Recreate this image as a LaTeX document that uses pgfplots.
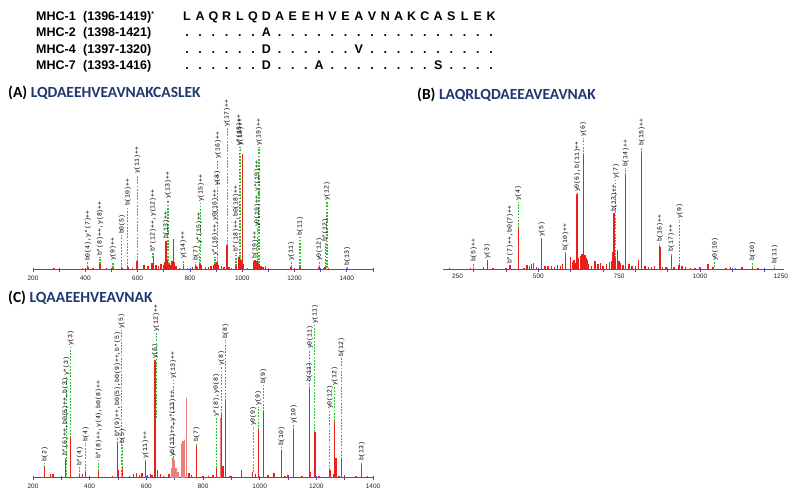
\documentclass[border=0pt]{standalone}
\usepackage{fontspec}
\setmainfont{Liberation Sans}
\newfontfamily\titlefont{Carlito}
\newfontfamily\labfont{Liberation Mono}
\usepackage{pgfplots}
\pgfplotsset{compat=1.18}
\definecolor{axblue}{RGB}{72,72,210}
\definecolor{pkred}{RGB}{235,30,30}
\definecolor{pkpink}{RGB}{240,125,125}
\definecolor{lblgreen}{RGB}{40,195,40}
\definecolor{navy}{RGB}{31,56,112}
\pgfplotsset{
 spec/.style={scale only axis, axis x line=bottom, axis y line=none,
   axis line style={axblue, line width=1pt, -}, ymin=0, clip=false,
   xtick style={axblue, line width=0.8pt}, tick align=center,
   major tick length=4pt, minor tick length=4pt,
   tick label style={font=\fontsize{6.5}{7}\selectfont, text=black!85},
   unbounded coords=jump},
 peaks/.style={ycomb, color=pkred, line width=1.4pt, mark=none},
 pinks/.style={ycomb, color=pkpink, line width=1.4pt, mark=none},
 gline/.style={color=lblgreen, dash pattern=on 1.8pt off 1.4pt, line width=1.1pt, mark=none},
}
\tikzset{seq/.style={font=\fontsize{12.5}{13}\selectfont\bfseries, inner sep=0, anchor=base},
  lbl/.style={rotate=90, anchor=west, inner sep=0.8pt, text=black, font=\labfont\fontsize{6.5}{6.5}\selectfont}}
\newcommand\lab[3]{\node[lbl] at (axis cs:#1,#2) {#3};}

\begin{document}
\begin{tikzpicture}
\path[use as bounding box] (0pt,0pt) rectangle (795pt,494pt);
\node[seq, anchor=base west] at (36pt,473pt) {MHC-1};
\node[seq, anchor=base west] at (36pt,457pt) {MHC-2};
\node[seq, anchor=base west] at (36pt,440pt) {MHC-4};
\node[seq, anchor=base west] at (36pt,424pt) {MHC-7};
\node[seq, anchor=base west] at (83pt,473pt) {(1396-1419)\textsuperscript{\fontsize{7}{7}\selectfont *}};
\node[seq, anchor=base west] at (83pt,457pt) {(1398-1421)};
\node[seq, anchor=base west] at (83pt,440pt) {(1397-1320)};
\node[seq, anchor=base west] at (83pt,424pt) {(1393-1416)};
\foreach \c [count=\i from 0] in {L,A,Q,R,L,Q,D,A,E,E,H,V,E,A,V,N,A,K,C,A,S,L,E,K}
  \node[seq] at ({187pt+13.22pt*\i},473pt) {\c};
\foreach \c [count=\i from 0] in {.,.,.,.,.,.,A,.,.,.,.,.,.,.,.,.,.,.,.,.,.,.,.,.}
  \node[seq] at ({187pt+13.22pt*\i},457pt) {\c};
\foreach \c [count=\i from 0] in {.,.,.,.,.,.,D,.,.,.,.,.,.,V,.,.,.,.,.,.,.,.,.,.}
  \node[seq] at ({187pt+13.22pt*\i},440pt) {\c};
\foreach \c [count=\i from 0] in {.,.,.,.,.,.,D,.,.,.,A,.,.,.,.,.,.,.,.,S,.,.,.,.}
  \node[seq] at ({187pt+13.22pt*\i},424pt) {\c};
\node[anchor=base west, inner sep=0, font=\titlefont\bfseries\fontsize{15.5}{17}\selectfont] at (8pt,396pt) {(A) \textcolor{navy}{LQDAEEHVEAVNAKCASLEK}};
\node[anchor=base west, inner sep=0, font=\titlefont\bfseries\fontsize{15.5}{17}\selectfont] at (417pt,394pt) {(B) \textcolor{navy}{LAQRLQDAEEAVEAVNAK}};
\node[anchor=base west, inner sep=0, font=\titlefont\bfseries\fontsize{15.5}{17}\selectfont] at (8pt,191pt) {(C) \textcolor{navy}{LQAAEEHVEAVNAK}};

% ---- Panel A
\begin{axis}[spec, at={(33pt,224pt)}, anchor=south west, width=340pt, height=180pt,
  xmin=200, xmax=1500, ymax=180,
  xtick={200,300,...,1500}, xticklabels={200,,400,,600,,800,,1000,,1200,,1400,}]
\addplot[gline] table {
410 3
410 8
410 nan
456 6
456 13
456 nan
506 2
506 8
506 nan
540 2
540 35
540 nan
563 3
563 63
563 nan
598 9
598 95
598 nan
659 12
659 17
659 nan
716 6
716 70
716 nan
774 4
774 10
774 nan
823 4
823 8
823 nan
835 6
835 25
835 nan
842 5
842 67
842 nan
896 6
896 13
896 nan
904 8
904 83
904 nan
907 8
907 110
907 nan
942 25
942 142
942 nan
976 4
976 17
976 nan
988 13
988 123
988 nan
993 10
993 123
993 nan
1057 9
1057 42
1057 nan
1064 7
1064 123
1064 nan
1187 3
1187 8
1187 nan
1221 3
1221 33
1221 nan
1294 3
1294 8
1294 nan
1317 3
1317 27
1317 nan
1324 2
1324 68
1324 nan
1401 1
1401 3
};
\addplot[peaks] table {
280 2
330 1
390 2
410 3
430 2
456 6
480 2
506 2
540 2
563 3
580 2
598 9
625 5
640 4
655 7
660 12
670 5
680 4
690 6
700 5
705 8
709 29
713 10
718 6
722 7
727 5
731 9
735 6
738 31
742 8
746 4
760 2
775 4
790 2
810 3
823 4
830 3
838 6
845 5
860 3
870 3
880 4
890 5
896 6
904 8
910 5
920 4
930 3
942 25
950 3
960 2
976 4
988 13
995 10
1000 116
1005 6
1020 2
1045 9
1049 10
1053 8
1057 9
1062 7
1066 6
1072 4
1080 3
1090 4
1100 2
1150 1
1187 3
1200 2
1221 3
1260 1
1294 3
1310 2
1317 3
1330 2
1360 1
1401 1
1450 1
};
\lab{410}{8}{b0(4),y*(7)++}
\lab{456}{13}{b*(8)++,y(8)++}
\lab{506}{8}{y(9)++}
\lab{540}{35}{b0(5)}
\lab{563}{63}{b(10)++}
\lab{598}{95}{y(11)++}
\lab{659}{17}{b*(12)++,y(12)++}
\lab{709}{30}{b(13)++}
\lab{716}{70}{y(13)++}
\lab{774}{10}{y(14)++}
\lab{823}{8}{b(7)}
\lab{835}{25}{y*(15)++}
\lab{842}{67}{y(15)++}
\lab{896}{13}{y*(16)++,y0(16)++}
\lab{904}{83}{y(8)}
\lab{907}{110}{y(16)++}
\lab{942}{142}{y(17)++}
\lab{976}{17}{b*(18)++,b0(18)++}
\lab{988}{123}{y*(18)++}
\lab{993}{123}{y(18)++}
\lab{1049}{10}{b(19)++}
\lab{1057}{42}{y0(19)++,y*(19)++}
\lab{1064}{123}{y(19)++}
\lab{1187}{8}{y(11)}
\lab{1221}{33}{b(11)}
\lab{1294}{8}{y0(12)}
\lab{1317}{27}{b*(12)}
\lab{1324}{68}{y(12)}
\lab{1401}{3}{b(13)}
\end{axis}

% ---- Panel B
\begin{axis}[spec, at={(443pt,224pt)}, anchor=south west, width=341pt, height=180pt,
  xmin=205, xmax=1260, ymax=180,
  xtick={250,500,750,1000,1250}, xticklabels={250,500,750,1000,1250}, major tick length=0pt,
  minor xtick={200,300,...,1200}]
\addplot[gline] table {
300 1
300 7
300 nan
438 42
438 68
438 nan
510 31
510 32
510 nan
584 16
584 18
584 nan
620 76
620 77
620 nan
639 115
639 132
639 nan
740 12
740 90
740 nan
770 95
770 102
770 nan
820 117
820 123
820 nan
876 23
876 27
876 nan
911 14
911 17
911 nan
937 5
937 50
937 nan
1046 3
1046 8
1046 nan
1162 2
1162 8
1162 nan
1231 1
1231 5
};
\addplot[peaks] table {
225 2
290 2
300 1
330 3
342 10
360 2
400 2
412 5
438 42
455 2
465 5
472 4
478 6
485 7
495 3
510 31
520 4
530 4
540 4
550 3
560 5
568 4
575 6
584 16
600 13
605 8
610 10
614 7
620 76
625 12
630 14
635 16
639 115
644 15
648 12
652 10
656 6
665 4
675 9
685 6
692 7
700 4
710 6
720 8
726 9
730 18
734 57
738 12
745 20
750 9
755 7
762 5
770 95
780 6
790 4
800 4
810 10
820 117
830 4
840 3
850 3
860 4
876 23
885 3
895 3
911 14
920 3
935 5
945 4
955 3
970 2
985 2
1000 3
1025 6
1040 3
1080 2
1095 3
1110 2
1130 3
1162 2
1180 2
1231 1
};
\lab{300}{7}{b(5)++}
\lab{342}{10}{y(3)}
\lab{412}{5}{b*(7)++,b0(7)++}
\lab{438}{68}{y(4)}
\lab{510}{32}{y(5)}
\lab{584}{18}{b(10)++}
\lab{620}{77}{y0(6),b(11)++}
\lab{639}{132}{y(6)}
\lab{734}{57}{b(13)++}
\lab{740}{90}{y(7)}
\lab{770}{102}{b(14)++}
\lab{820}{123}{b(15)++}
\lab{876}{27}{b(16)++}
\lab{911}{17}{b(17)++}
\lab{937}{50}{y(9)}
\lab{1046}{8}{y0(10)}
\lab{1162}{8}{b(10)}
\lab{1231}{5}{b(11)}
\end{axis}

% ---- Panel C
\begin{axis}[spec, at={(33pt,16pt)}, anchor=south west, width=340pt, height=160pt,
  xmin=200, xmax=1400, ymax=160,
  xtick={200,300,...,1400}, xticklabels={200,,400,,600,,800,,1000,,1200,,1400}]
\addplot[gline] table {
241 11
241 15
241 nan
314 18
314 21
314 nan
318 0
318 101
318 nan
333 40
333 131
333 nan
365 3
365 11
365 nan
386 6
386 35
386 nan
432 7
432 18
432 nan
498 35
498 40
498 nan
512 0
512 148
512 nan
516 10
516 33
516 nan
597 17
597 18
597 nan
635 60
635 145
635 nan
692 18
692 20
692 nan
695 20
695 98
695 nan
777 32
777 35
777 nan
847 10
847 60
847 nan
865 64
865 111
865 nan
879 77
879 138
879 nan
977 6
977 51
977 nan
995 48
995 71
995 nan
1013 66
1013 93
1013 nan
1077 27
1077 31
1077 nan
1120 48
1120 53
1120 nan
1175 90
1175 95
1175 nan
1177 90
1177 128
1177 nan
1195 46
1195 153
1195 nan
1248 8
1248 68
1248 nan
1265 57
1265 91
1265 nan
1289 19
1289 120
1289 nan
1360 13
1360 16
};
\addplot[pinks] table {
688 10
692 18
696 20
700 18
705 10
712 6
725 35
730 37
735 38
742 80
862 60
};
\addplot[peaks] table {
241 11
262 4
270 4
314 18
333 40
365 3
375 4
386 6
400 2
432 7
480 2
498 35
502 8
516 10
540 2
555 4
565 5
575 3
585 5
597 17
605 3
615 4
620 3
630 118
640 8
650 4
660 2
680 4
750 5
760 3
777 32
800 2
820 2
835 3
847 10
865 64
870 12
879 77
895 2
935 8
975 6
985 4
995 48
1013 66
1030 3
1050 5
1077 27
1090 2
1100 3
1120 48
1150 2
1175 90
1180 6
1195 46
1210 2
1248 8
1260 4
1265 57
1270 20
1280 2
1289 19
1300 3
1340 2
1360 13
1380 2
};
\lab{241}{15}{b(2)}
\lab{314}{21}{b*(6)++,b0(6)++,b(3)}
\lab{318}{101}{y*(3)}
\lab{333}{131}{y(3)}
\lab{365}{11}{b*(4)}
\lab{386}{35}{b(4)}
\lab{432}{18}{b*(8)++,y(4),b0(8)++}
\lab{498}{40}{b*(9)++,b0(5),b0(9)++,b*(5)}
\lab{512}{148}{y(5)}
\lab{516}{33}{b(5)}
\lab{597}{18}{y(11)++}
\lab{630}{118}{y(6)}
\lab{635}{145}{y(12)++}
\lab{692}{20}{y0(13)++,y*(13)++}
\lab{695}{98}{y(13)++}
\lab{777}{35}{b(7)}
\lab{847}{60}{y*(8),y0(8)}
\lab{865}{111}{y(8)}
\lab{879}{138}{b(8)}
\lab{977}{51}{y0(9)}
\lab{995}{71}{y(9)}
\lab{1013}{93}{b(9)}
\lab{1077}{31}{b(10)}
\lab{1120}{53}{y(10)}
\lab{1175}{95}{b(11)}
\lab{1177}{128}{y0(11)}
\lab{1195}{153}{y(11)}
\lab{1248}{68}{y0(12)}
\lab{1265}{91}{y(12)}
\lab{1289}{120}{b(12)}
\lab{1360}{16}{b(13)}
\end{axis}
\end{tikzpicture}
\end{document}
